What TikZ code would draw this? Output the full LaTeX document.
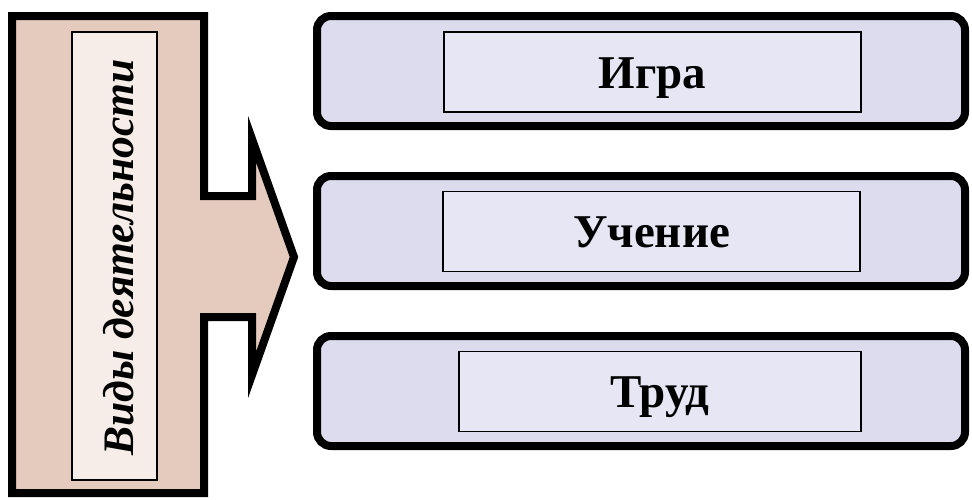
\documentclass[tikz,border=0pt]{standalone}
\usepackage{fontspec}
\setmainfont{Liberation Serif}
\definecolor{tanfill}{HTML}{E5CBBE}
\definecolor{tanlight}{HTML}{F6EDE9}
\definecolor{lavender}{HTML}{DCDCEE}
\definecolor{lavlight}{HTML}{E6E6F4}
\begin{document}
\begin{tikzpicture}[
		x=1pt, y=-1pt,
		heavy/.style={line width=8pt, line join=miter},
		kindbox/.style={draw, heavy, rounded corners=14pt, fill=lavender, minimum width=648pt, minimum height=110pt, inner sep=0pt},
		kindlabel/.style={draw, line width=1.8pt, fill=lavlight, minimum height=80pt, inner sep=0pt},
		kindtext/.style={font=\fontsize{47}{50}\selectfont\bfseries, anchor=base}
	]
	\useasboundingbox (0,0) rectangle (972,499);
	% left block with arrow
	\draw[heavy, fill=tanfill] (12,16) -- (204,16) -- (204,196) -- (252,196) -- (252,139)
		-- (294,257) -- (252,375) -- (252,317) -- (204,317) -- (204,493) -- (12,493) -- cycle;
	\node[draw, line width=1.8pt, fill=tanlight, minimum width=85pt, minimum height=448pt, inner sep=0pt] (kinds) at (114.5,256) {};
	\node[rotate=90, anchor=base, font=\fontsize{43.5}{50}\selectfont\bfseries\itshape] (kindstitle) at (133,257.5) {Виды деятельности};

	% three kinds
	\node[kindbox] (game) at (641,71) {};
	\node[kindlabel, minimum width=417pt] (gamelabel) at (652.5,72) {};
	\node[kindtext] (gametext) at (652.5,88) {Игра};

	\node[kindbox] (study) at (641,231) {};
	\node[kindlabel, minimum width=417pt] (studylabel) at (651.5,231.5) {};
	\node[kindtext] (studytext) at (651.5,247.5) {Учение};

	\node[kindbox] (work) at (641,391) {};
	\node[kindlabel, minimum width=402pt] (worklabel) at (660,391.5) {};
	\node[kindtext] (worktext) at (660,407.5) {Труд};
\end{tikzpicture}
\end{document}
